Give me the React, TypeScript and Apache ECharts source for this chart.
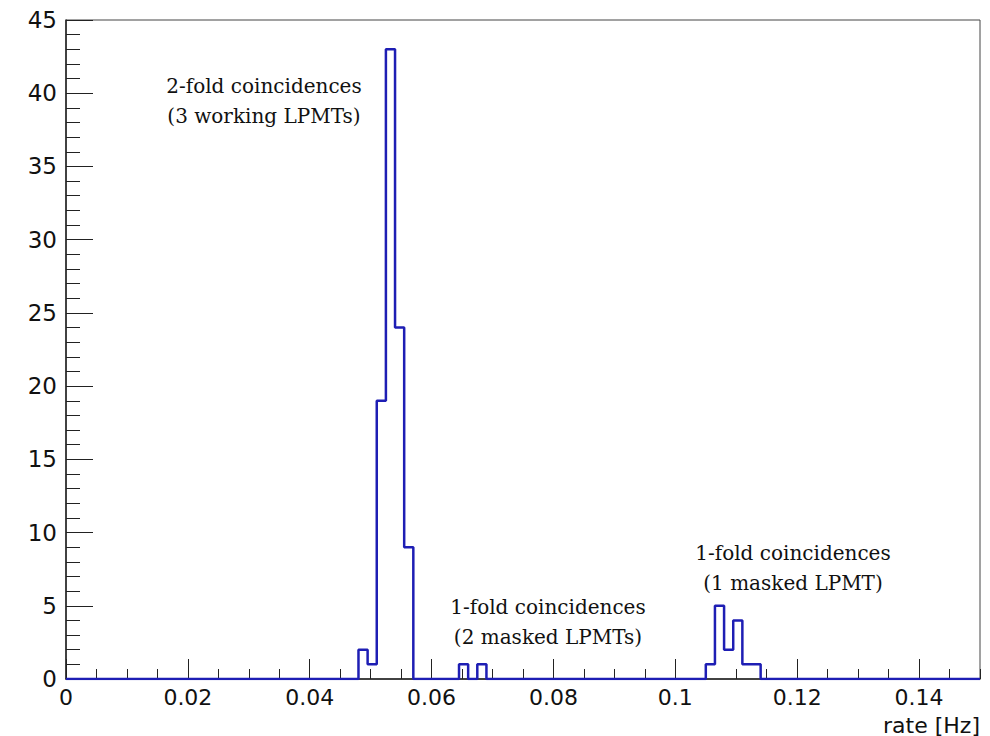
import React, { useEffect, useRef } from "react";
import * as echarts from "echarts";

// Histogram: 100 bins of width 0.0015 Hz from 0 to 0.15 Hz
const binWidth = 0.0015;
const binCount = 100;
// non-empty bins (left edge index) and their counts
const filledBinIndex = [32, 33, 34, 35, 36, 37, 43, 45, 70, 71, 72, 73, 74, 75];
const filledBinCounts = [2, 1, 19, 43, 24, 9, 1, 1, 1, 5, 2, 4, 1, 1];

const xMajorTicks = [0, 0.02, 0.04, 0.06, 0.08, 0.1, 0.12, 0.14];
const yTicks = [0, 5, 10, 15, 20, 25, 30, 35, 40, 45];

const annotations = [
  { lines: ["2-fold coincidences", "(3 working LPMTs)"], x: 264, y: 86 },
  { lines: ["1-fold coincidences", "(2 masked LPMTs)"], x: 548, y: 607 },
  { lines: ["1-fold coincidences", "(1 masked LPMT)"], x: 793, y: 553 },
];

const xTitle = "rate [Hz]";

export default function App() {
  const ref = useRef<HTMLDivElement>(null);
  useEffect(() => {
    if (!ref.current) return;
    const chart = echarts.init(ref.current, null, { renderer: "svg" });
    const counts: number[] = new Array(binCount).fill(0);
    filledBinIndex.forEach((b, i) => (counts[b] = filledBinCounts[i]));
    const pts: number[][] = [];
    counts.forEach((c, i) => {
      pts.push([i * binWidth, c]);
      pts.push([(i + 1) * binWidth, c]);
    });
    const labelFont = { fontFamily: "DejaVu Sans", fontSize: 22, color: "#111" };
    const graphics: any[] = [];
    annotations.forEach((a) => {
      a.lines.forEach((t, k) => {
        graphics.push({
          type: "text",
          x: a.x,
          y: a.y + k * 30,
          style: {
            text: t,
            fontFamily: "DejaVu Serif",
            fontSize: 20,
            fill: "#111",
            textAlign: "center",
            textVerticalAlign: "middle",
          },
        });
      });
    });
    graphics.push({
      type: "text",
      x: 980,
      y: 725,
      style: {
        text: xTitle,
        fontFamily: "DejaVu Sans",
        fontSize: 22,
        fill: "#111",
        textAlign: "right",
        textVerticalAlign: "middle",
      },
    });
    chart.setOption({
      animation: false,
      grid: {
        left: 66,
        right: 10,
        top: 20,
        bottom: 57,
        show: true,
        borderColor: "#444",
        borderWidth: 1,
        backgroundColor: "transparent",
      },
      xAxis: [
        {
          type: "value",
          min: 0,
          max: 0.15,
          interval: 0.02,
          axisLine: { show: true, lineStyle: { color: "#222", width: 1.5 } },
          axisTick: { show: true, inside: true, length: 20, lineStyle: { color: "#222" } },
          axisLabel: {
            ...labelFont,
            margin: 7,
            showMaxLabel: false,
            formatter: (v: number) => {
              const m = xMajorTicks.find((t) => Math.abs(t - v) < 1e-9);
              return m === undefined ? "" : String(m);
            },
          },
          splitLine: { show: false },
        },
        {
          type: "value",
          position: "bottom",
          min: 0,
          max: 0.15,
          interval: 0.005,
          axisLine: { show: false },
          axisTick: { show: true, inside: true, length: 10, lineStyle: { color: "#222" } },
          axisLabel: { show: false },
          splitLine: { show: false },
        },
      ],
      yAxis: {
        type: "value",
        min: 0,
        max: 45,
        interval: 5,
        axisLine: { show: true, lineStyle: { color: "#222", width: 1.5 } },
        axisTick: { show: true, inside: true, length: 27, lineStyle: { color: "#222" } },
        minorTick: { show: true, splitNumber: 5, length: 14, lineStyle: { color: "#222" } },
        axisLabel: {
          ...labelFont,
          fontSize: 23,
          margin: 9,
          formatter: (v: number) => (yTicks.includes(v) ? String(v) : ""),
        },
        splitLine: { show: false },
        minorSplitLine: { show: false },
      },
      series: [
        {
          type: "line",
          xAxisIndex: 0,
          data: pts,
          symbol: "none",
          lineStyle: { color: "#1e1eb4", width: 2.5 },
          z: 5,
        },
      ],
      graphic: graphics,
    });
    return () => chart.dispose();
  }, []);
  return (
    <div
      ref={ref}
      style={{ position: "absolute", left: 0, top: 0, width: 990, height: 736 }}
    />
  );
}
